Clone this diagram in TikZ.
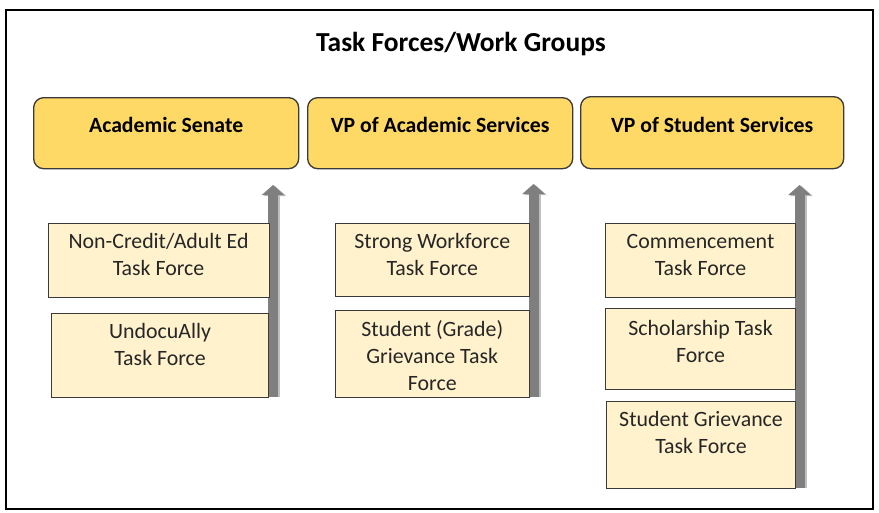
\documentclass[tikz,border=0pt]{standalone}
\usepackage{fontspec}
\setmainfont{Carlito}
\usetikzlibrary{calc,arrows.meta}
\definecolor{topfill}{HTML}{FFD966}
\definecolor{subfill}{HTML}{FFF2CC}
\definecolor{arrgray}{HTML}{7F7F7F}
\definecolor{shgray}{HTML}{BFBFBF}
\definecolor{edge}{HTML}{3A3A3A}
\definecolor{subtext}{HTML}{262626}
\newcommand{\tl}[1]{\begin{tabular}[t]{@{}c@{}}#1\end{tabular}}
\begin{document}
\begin{tikzpicture}[x=0.75pt,y=-0.75pt,
  topbox/.style={draw=edge,line width=1pt,fill=topfill,rounded corners=7.5pt,anchor=north west,inner sep=0pt},
  subbox/.style={draw=edge,line width=0.8pt,fill=subfill,anchor=north west,inner sep=0pt},
  toptext/.style={anchor=base,font=\fontsize{16.3}{19.5}\selectfont\bfseries,inner sep=0pt},
  subtextstyle/.style={anchor=base,text=subtext,font=\fontsize{16.4}{20.25}\selectfont,inner sep=0pt},
  uparrow/.style={line width=7.5pt,arrgray,-{Triangle[width=16.5pt,length=7.5pt]}},
  upshadow/.style={line width=7.5pt,shgray,-{Triangle[width=16.5pt,length=7.5pt]}}
]
\useasboundingbox (0,0) rectangle (879,512);
\draw[line width=1.8pt,black] (6,10) rectangle (873,509);
\node[anchor=base,font=\fontsize{20.6}{24}\selectfont\bfseries,inner sep=0pt] (title) at (461,51) {Task Forces/Work Groups};

% top boxes
\node[topbox,minimum width=265*0.75pt,minimum height=71*0.75pt] (as) at (33,97) {};
\node[topbox,minimum width=265*0.75pt,minimum height=71*0.75pt] (vpa) at (307,97) {};
\node[topbox,minimum width=263*0.75pt,minimum height=72*0.75pt] (vps) at (580,96) {};
\node[toptext] (ast) at ($(as.north)+(0,35)$) {Academic Senate};
\node[toptext] (vpat) at ($(vpa.north)+(0,35)$) {VP of Academic Services};
\node[toptext] (vpst) at ($(vps.north)+(0,36)$) {VP of Student Services};

% arrows
\coordinate (a1s) at (273,396.5);
\coordinate (a1e) at (273,185);
\coordinate (a2s) at (533.5,396.5);
\coordinate (a2e) at (533.5,184);
\coordinate (a3s) at (799.5,487.5);
\coordinate (a3e) at (799.5,185);
\draw[upshadow] ($(a1s)+(2,0)$) -- ($(a1e)+(2,1)$);
\draw[upshadow] ($(a2s)+(2,0)$) -- ($(a2e)+(2,1)$);
\draw[upshadow] ($(a3s)+(2,0)$) -- ($(a3e)+(2,1)$);
\draw[uparrow] (a1s) -- (a1e);
\draw[uparrow] (a2s) -- (a2e);
\draw[uparrow] (a3s) -- (a3e);

% sub boxes column 1
\node[subbox,minimum width=221*0.75pt,minimum height=74*0.75pt] (nc) at (47.5,222.7) {};
\node[subbox,minimum width=217.5*0.75pt,minimum height=84*0.75pt] (ua) at (50.8,312.7) {};
\node[subtextstyle] at ($(nc.north)+(0,26)$) {\tl{Non-Credit/Adult Ed\\Task Force}};
\node[subtextstyle] at ($(ua.north)+(0,26)$) {\tl{UndocuAlly\\Task Force}};

% column 2
\node[subbox,minimum width=193.5*0.75pt,minimum height=73*0.75pt] (sw) at (335,222.7) {};
\node[subbox,minimum width=193.5*0.75pt,minimum height=86.5*0.75pt] (sg) at (335,310) {};
\node[subtextstyle] at ($(sw.north)+(0,26)$) {\tl{Strong Workforce\\Task Force}};
\node[subtextstyle] at ($(sg.north)+(0,26.5)$) {\tl{Student (Grade)\\Grievance Task\\Force}};

% column 3
\node[subbox,minimum width=190*0.75pt,minimum height=74*0.75pt] (cm) at (605,222.7) {};
\node[subbox,minimum width=190*0.75pt,minimum height=81*0.75pt] (sc) at (605,308.3) {};
\node[subbox,minimum width=189*0.75pt,minimum height=87*0.75pt] (sgv) at (606,400.5) {};
\node[subtextstyle] at ($(cm.north)+(0,26)$) {\tl{Commencement\\Task Force}};
\node[subtextstyle] at ($(sc.north)+(0,27)$) {\tl{Scholarship Task\\Force}};
\node[subtextstyle] at ($(sgv.north)+(0,26)$) {\tl{Student Grievance\\Task Force}};
\end{tikzpicture}
\end{document}
